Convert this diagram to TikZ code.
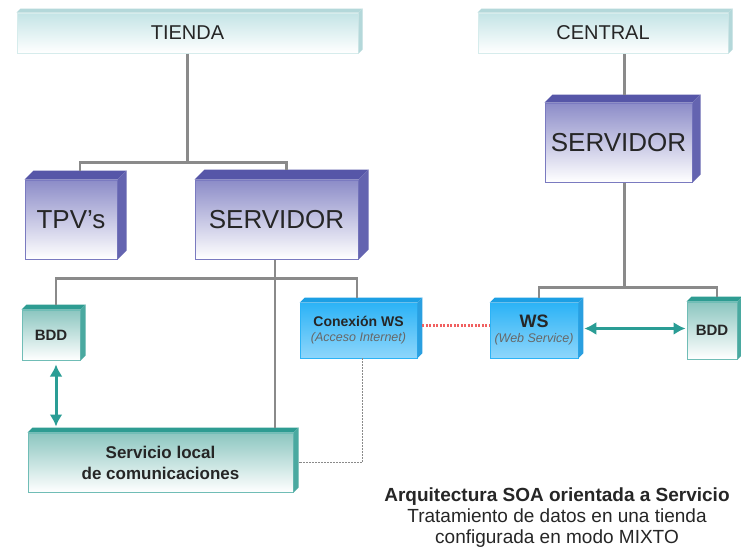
\documentclass[tikz,border=0pt]{standalone}
\usepackage{fontspec}
\setmainfont{Liberation Sans}
\usepackage{tikz}
\usetikzlibrary{arrows.meta}

\definecolor{gris}{HTML}{8A8A8A}
\definecolor{texto}{HTML}{262626}
\definecolor{cian}{HTML}{C4E4E6}
\definecolor{cianborde}{HTML}{D6ECEC}
\definecolor{cianlado}{HTML}{B4D8DA}
\definecolor{lila}{HTML}{8C8CC8}
\definecolor{lilaborde}{HTML}{7A7AC0}
\definecolor{lilatapa}{HTML}{5656A8}
\definecolor{lilalado}{HTML}{6464B0}
\definecolor{verde}{HTML}{8CC6C0}
\definecolor{verdeborde}{HTML}{70BDB6}
\definecolor{verdetapa}{HTML}{2E9C92}
\definecolor{verdelado}{HTML}{4AA9A0}
\definecolor{azul}{HTML}{2CB3F6}
\definecolor{azulclaro}{HTML}{8ED6FB}
\definecolor{azultapa}{HTML}{1C9FE4}
\definecolor{azullado}{HTML}{2A9FE0}
\definecolor{flechaverde}{HTML}{2A9D95}
\definecolor{rojo}{HTML}{F06060}

\tikzset{
  titulo/.style={draw=cianborde, line width=1pt, top color=cian, bottom color=white, inner sep=0pt, text=texto, font=\fontsize{20}{24}\selectfont},
  servidor/.style={draw=lilaborde, line width=1pt, top color=lila, bottom color=white, inner sep=0pt, text=texto, font=\fontsize{26}{30}\selectfont},
  bdd/.style={draw=verdeborde, line width=1pt, top color=verde, bottom color=white, inner sep=0pt, text=texto, align=center, font=\bfseries\fontsize{15}{20}\selectfont},
  wsbox/.style={draw=azul, line width=0.6pt, top color=azul, bottom color=azulclaro, inner sep=0pt, text=texto, align=center},
  linea/.style={draw=gris, line width=2.2pt},
  flecha/.style={draw=flechaverde, line width=3pt, {Latex[length=12pt,width=13pt]}-{Latex[length=12pt,width=13pt]}},
}

\newcommand{\caras}[4]{%
  \fill[#3] (#1.north west) -- ++(#2,#2) -- ([shift={(#2,#2)}]#1.north east) -- (#1.north east) -- cycle;
  \fill[#4] (#1.north east) -- ([shift={(#2,#2)}]#1.north east) -- ([shift={(#2,#2)}]#1.south east) -- (#1.south east) -- cycle;
}

\begin{document}
\begin{tikzpicture}[x=1pt,y=1pt]
  \useasboundingbox[fill=white] (0,0) rectangle (741,-557);

  % cabeceras
  \node[titulo, minimum width=341, minimum height=40] (tienda) at (187.5,-33) {TIENDA};
  \node[titulo, minimum width=250, minimum height=40] (central) at (603,-33) {CENTRAL};
  \caras{tienda}{4}{cianlado}{cianlado}
  \caras{central}{4}{cianlado}{cianlado}

  % servidores
  \node[servidor, minimum width=92, minimum height=79] (tpv) at (71,-219.5) {TPV’s};
  \node[servidor, minimum width=163, minimum height=79] (servT) at (276.5,-219.5) {SERVIDOR};
  \node[servidor, minimum width=147, minimum height=79] (servC) at (618.5,-142.5) {SERVIDOR};
  \caras{tpv}{9}{lilatapa}{lilalado}
  \caras{servT}{10}{lilatapa}{lilalado}
  \caras{servC}{8}{lilatapa}{lilalado}

  % bases de datos y servicio local
  \node[bdd, minimum width=58, minimum height=50] (bddT) at (51,-335) {BDD};
  \node[bdd, minimum width=50, minimum height=57] (bddC) at (712,-330.5) {BDD};
  \node[bdd, minimum width=265, minimum height=59, font=\bfseries\fontsize{17}{21}\selectfont] (local) at (160.5,-462.5) {Servicio local\\de comunicaciones};
  \caras{bddT}{5}{verdetapa}{verdelado}
  \caras{bddC}{5}{verdetapa}{verdelado}
  \caras{local}{5}{verdetapa}{verdelado}

  % web services
  \node[wsbox, minimum width=117, minimum height=55] (conex) at (358.5,-330.5)
    {{\bfseries\fontsize{14}{17}\selectfont Conexión WS}\\[3pt]{\itshape\fontsize{12.5}{15}\selectfont\color{texto!70} (Acceso Internet)}};
  \node[wsbox, minimum width=88, minimum height=55] (ws) at (534,-330.5)
    {{\bfseries\fontsize{18}{18}\selectfont WS}\\[3pt]{\itshape\fontsize{12.5}{15}\selectfont\color{texto!70} (Web Service)}};
  \caras{conex}{5}{azultapa}{azullado}
  \caras{ws}{5}{azultapa}{azullado}

  % conexiones tienda
  \draw[linea] (tienda.south) -- ++(0,-109) coordinate (barraT);
  \draw[linea] ([shift={(9,9)}]tpv.north) |- (barraT) -| ([shift={(10,10)}]servT.north);
  \draw[linea] ([xshift=-1.5]servT.south) -- ([shift={(-1.5,5)}]servT.south |- local.north);
  \draw[linea] ([xshift=-1.5]servT.south) ++(0,-19) coordinate (barraS);
  \draw[linea] ([shift={(5,5)}]bddT.north) |- (barraS) -| ([shift={(-1.5,5)}]conex.north);

  % conexiones central
  \draw[linea] ([shift={(6,8)}]servC.north) -- ([xshift=6]servC.north |- central.south);
  \draw[linea] ([xshift=6]servC.south) -- ++(0,-105) coordinate (barraC);
  \draw[linea] ([shift={(5,5)}]ws.north) |- (barraC) -| ([shift={(5,5)}]bddC.north);

  % enlaces
  \draw[rojo, line width=2.6pt, dash pattern=on 2pt off 1.5pt] ([shift={(5,5)}]conex.east) -- ([yshift=5]ws.west);
  \draw[flecha] ([shift={(6,2)}]ws.east) -- ([shift={(-1,2)}]bddC.west);
  \draw[flecha] ([shift={(5,-4)}]bddT.south) -- ([shift={(5,6)}]bddT.south |- local.north);
  \draw[gris, line width=1.8pt, dash pattern=on 1.5pt off 1.5pt] ([xshift=4]conex.south) |- ([xshift=5]local.east);

  % pie
  \node[text=texto, align=center, font=\fontsize{19}{21}\selectfont] (pie) at (557,-518)
    {\textbf{Arquitectura SOA orientada a Servicio}\\Tratamiento de datos en una tienda\\configurada en modo MIXTO};
\end{tikzpicture}
\end{document}
